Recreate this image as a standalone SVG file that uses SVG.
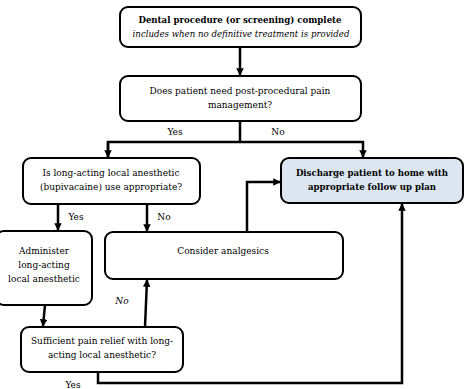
<svg xmlns="http://www.w3.org/2000/svg" width="465" height="389" viewBox="0 0 465 389">
<defs>
<style>
.box{fill:#fff;stroke:#000;stroke-width:2}
.blue{fill:#dce6f1}
.t{font-family:"DejaVu Serif",serif;font-size:9px;fill:#000;text-anchor:middle}
.b{font-weight:bold;font-size:8.6px}
.i{font-style:italic;font-size:8.6px}
.c{fill:none;stroke:#000;stroke-width:2.5}
</style>
<marker id="ah" viewBox="0 0 10 10" refX="9" refY="5" markerWidth="3" markerHeight="3" orient="auto">
<path d="M0,0 L10,5 L0,10 z" fill="#000"/>
</marker>
</defs>
<rect width="465" height="389" fill="#fff"/>
<g id="connectors">
<line class="c" x1="240" y1="47" x2="240" y2="75" marker-end="url(#ah)"/>
<polyline class="c" points="240,121 240,142"/>
<polyline class="c" points="108,157 108,142 363,142 363,157" marker-end="url(#ah)"/>
<line class="c" x1="108" y1="142" x2="108" y2="157" marker-end="url(#ah)"/>
<line class="c" x1="58" y1="204" x2="58" y2="230" marker-end="url(#ah)"/>
<line class="c" x1="147" y1="204" x2="147" y2="231" marker-end="url(#ah)"/>
<polyline class="c" points="247,232 247,182 280,182" marker-end="url(#ah)"/>
<line class="c" x1="45" y1="305" x2="43" y2="326" marker-end="url(#ah)"/>
<line class="c" x1="145" y1="327" x2="147" y2="280" marker-end="url(#ah)"/>
<polyline class="c" points="98,372 98,383 402,383 402,204" marker-end="url(#ah)"/>
<text class="t" x="175" y="135">Yes</text>
<text class="t" x="278" y="135">No</text>
<text class="t" x="76" y="220">Yes</text>
<text class="t" x="164" y="220">No</text>
<text class="t" x="122" y="304" font-style="italic">No</text>
<text class="t" x="73" y="388">Yes</text>
</g>
<g id="n1">
<rect class="box" x="120" y="7" width="241" height="40" rx="8"/>
<text class="t b" x="240" y="23">Dental procedure (or screening) complete</text>
<text class="t i" x="241" y="37">includes when no definitive treatment is provided</text>
</g>
<g id="n2">
<rect class="box" x="120" y="76" width="241" height="45" rx="8"/>
<text class="t" x="240" y="94">Does patient need post-procedural pain</text>
<text class="t" x="240" y="108">management?</text>
</g>
<g id="n3">
<rect class="box" x="23" y="158" width="177" height="46" rx="8"/>
<text class="t" x="111" y="176">Is long-acting local anesthetic</text>
<text class="t" x="111" y="190">(bupivacaine) use appropriate?</text>
</g>
<g id="n4">
<rect class="box blue" x="281" y="158" width="182" height="45" rx="8"/>
<text class="t b" x="372" y="176">Discharge patient to home with</text>
<text class="t b" x="372" y="190">appropriate follow up plan</text>
</g>
<g id="n5">
<rect class="box" x="-4" y="231" width="96" height="74" rx="8"/>
<text class="t" x="44" y="254">Administer</text>
<text class="t" x="44" y="268">long-acting</text>
<text class="t" x="44" y="282">local anesthetic</text>
</g>
<g id="n6">
<rect class="box" x="105" y="232" width="238" height="47" rx="8"/>
<text class="t" x="223" y="254">Consider analgesics</text>
</g>
<g id="n7">
<rect class="box" x="21" y="327" width="162" height="45" rx="8"/>
<text class="t" x="102" y="344">Sufficient pain relief with long-</text>
<text class="t" x="102" y="358">acting local anesthetic?</text>
</g>
</svg>
